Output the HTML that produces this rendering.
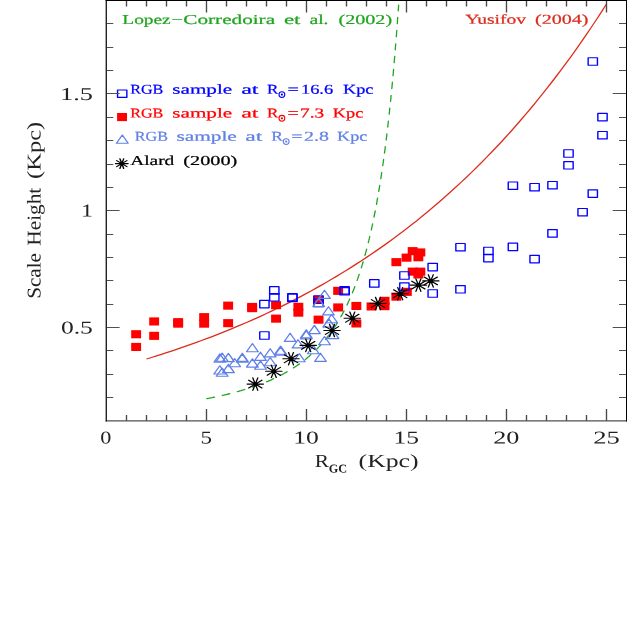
<!DOCTYPE html>
<html><head><meta charset="utf-8"><title>Scale Height vs R_GC</title>
<style>
html,body{margin:0;padding:0;background:#fff;}
body{width:627px;height:627px;overflow:hidden;}
svg{display:block;font-family:"Liberation Serif",serif;will-change:transform;}
</style></head><body>
<svg width="627" height="627" viewBox="0 0 627 627">
<rect width="627" height="627" fill="#fff"/>
<polyline fill="none" stroke="#dd2c1c" stroke-width="1.3" points="146.5,359.0 151.5,357.5 156.5,355.9 161.5,354.3 166.5,352.7 171.5,351.1 176.5,349.4 181.5,347.7 186.5,345.9 191.5,344.2 196.5,342.4 201.5,340.5 206.5,338.7 211.5,336.8 216.5,334.8 221.5,332.9 226.5,330.9 231.5,328.8 236.5,326.7 241.5,324.6 246.5,322.5 251.5,320.3 256.5,318.1 261.5,315.8 266.5,313.5 271.5,311.1 276.5,308.7 281.5,306.3 286.5,303.8 291.5,301.3 296.5,298.7 301.5,296.1 306.5,293.4 311.5,290.7 316.5,287.9 321.5,285.1 326.5,282.2 331.5,279.3 336.5,276.4 341.5,273.3 346.5,270.3 351.5,267.1 356.5,263.9 361.5,260.7 366.5,257.4 371.5,254.0 376.5,250.6 381.5,247.1 386.5,243.6 391.5,239.9 396.5,236.3 401.5,232.5 406.5,228.7 411.5,224.8 416.5,220.9 421.5,216.8 426.5,212.7 431.5,208.6 436.5,204.3 441.5,200.0 446.5,195.6 451.5,191.1 456.5,186.6 461.5,181.9 466.5,177.2 471.5,172.4 476.5,167.5 481.5,162.5 486.5,157.4 491.5,152.3 496.5,147.0 501.5,141.7 506.5,136.2 511.5,130.7 516.5,125.0 521.5,119.3 526.5,113.4 531.5,107.5 536.5,101.4 541.5,95.2 546.5,88.9 551.5,82.5 556.5,76.0 561.5,69.4 566.5,62.6 571.5,55.8 576.5,48.8 581.5,41.6 586.5,34.4 591.5,27.0 596.5,19.5 601.5,11.8 606.5,4.0"/>
<clipPath id="c"><rect x="106" y="0" width="520" height="421"/></clipPath>
<path clip-path="url(#c)" fill="none" stroke="#1fa51f" stroke-width="1.3" stroke-linecap="round" d="M206.9 398.7 L208.2 398.4 L209.5 398.2 L210.7 397.9 L212.0 397.7 L213.3 397.4 L214.5 397.1 M222.3 395.4 L223.5 395.2 L224.7 394.9 L226.0 394.6 L227.2 394.3 L228.5 394.0 L229.7 393.7 L229.8 393.6 M237.4 391.6 L238.6 391.3 L239.9 390.9 L241.1 390.6 L242.3 390.2 L243.6 389.9 L244.8 389.5 M252.2 387.1 L253.4 386.7 L254.6 386.3 L255.8 385.9 L257.0 385.4 L258.2 385.0 L259.4 384.6 L259.5 384.6 M266.6 381.7 L267.8 381.3 L268.9 380.8 L270.1 380.3 L271.3 379.8 L272.4 379.2 L273.6 378.7 M280.4 375.4 L281.5 374.8 L282.6 374.3 L283.7 373.7 L284.7 373.1 L285.8 372.5 L286.9 371.9 L287.0 371.8 M293.4 367.9 L294.4 367.3 L295.4 366.6 L296.4 366.0 L297.4 365.3 L298.4 364.6 L299.4 363.9 L299.4 363.9 M305.3 359.4 L306.2 358.7 L307.1 357.9 L308.1 357.1 L309.0 356.4 L309.9 355.6 L310.8 354.8 M316.0 349.9 L316.8 349.1 L317.6 348.2 L318.4 347.4 L319.2 346.6 L320.0 345.7 L320.8 344.8 M325.5 339.5 L326.1 338.6 L326.8 337.8 L327.5 336.9 L328.2 336.0 L328.9 335.1 L329.5 334.2 L329.7 334.1 M333.7 328.4 L334.3 327.5 L334.9 326.6 L335.5 325.7 L336.1 324.8 L336.7 323.8 L337.3 322.9 L337.3 322.7 M340.8 316.8 L341.3 315.9 L341.9 315.0 L342.4 314.0 L342.9 313.0 L343.4 312.1 L343.9 311.1 L344.0 311.0 M347.0 305.0 L347.4 304.0 L347.9 303.1 L348.3 302.1 L348.7 301.2 L349.2 300.2 L349.6 299.2 L349.7 299.0 M352.4 292.8 L352.8 291.8 L353.2 290.8 L353.6 289.8 L354.0 288.8 L354.4 287.7 L354.8 286.7 M357.1 280.4 L357.5 279.4 L357.8 278.4 L358.2 277.3 L358.5 276.3 L358.9 275.2 L359.2 274.3 M361.3 267.8 L361.6 266.9 L361.9 266.0 L362.1 265.1 L362.4 264.2 L362.7 263.2 L363.0 262.3 L363.1 261.8 M365.0 255.3 L365.3 254.3 L365.5 253.3 L365.8 252.2 L366.1 251.2 L366.4 250.1 L366.7 249.1 M368.3 242.6 L368.5 241.7 L368.8 240.7 L369.0 239.7 L369.3 238.7 L369.5 237.7 L369.7 236.7 L369.8 236.5 M371.3 229.9 L371.5 229.0 L371.7 228.1 L371.9 227.1 L372.1 226.2 L372.3 225.3 L372.5 224.4 L372.6 223.8 M374.0 217.0 L374.2 216.0 L374.4 215.0 L374.6 214.0 L374.8 213.0 L375.0 212.0 L375.2 211.0 M376.5 204.4 L376.6 203.5 L376.8 202.6 L376.9 201.8 L377.1 200.9 L377.3 200.0 L377.4 199.1 L377.6 198.2 M378.7 191.4 L378.9 190.5 L379.1 189.5 L379.2 188.6 L379.4 187.6 L379.5 186.6 L379.7 185.7 L379.7 185.4 M380.8 178.6 L381.0 177.6 L381.1 176.5 L381.3 175.5 L381.5 174.4 L381.6 173.4 L381.7 172.6 M382.7 165.7 L382.9 164.9 L383.0 164.1 L383.1 163.2 L383.2 162.4 L383.3 161.5 L383.5 160.7 L383.6 159.8 L383.6 159.5 M384.5 153.0 L384.6 152.1 L384.7 151.2 L384.9 150.3 L385.0 149.4 L385.1 148.5 L385.2 147.6 L385.3 146.6 M386.2 140.0 L386.3 139.0 L386.4 138.1 L386.5 137.1 L386.7 136.1 L386.8 135.1 L386.9 134.1 L386.9 133.8 M387.7 127.0 L387.9 126.0 L388.0 124.9 L388.1 123.9 L388.2 122.8 L388.3 121.8 L388.4 121.1 M389.2 114.2 L389.3 113.5 L389.3 112.7 L389.4 112.0 L389.5 111.3 L389.6 110.5 L389.7 109.8 L389.7 109.0 L389.8 108.2 M390.5 101.3 L390.6 100.6 L390.7 99.8 L390.8 99.0 L390.9 98.2 L390.9 97.4 L391.0 96.6 L391.1 95.8 L391.1 95.4 M391.8 88.5 L391.9 87.6 L392.0 86.8 L392.1 86.0 L392.1 85.1 L392.2 84.3 L392.3 83.4 L392.4 82.6 L392.4 82.2 M393.0 75.7 L393.1 74.8 L393.2 73.9 L393.3 73.0 L393.3 72.1 L393.4 71.2 L393.5 70.4 L393.6 69.5 M394.2 62.6 L394.3 61.7 L394.3 60.7 L394.4 59.8 L394.5 58.9 L394.6 57.9 L394.7 57.0 L394.7 56.5 M395.3 49.8 L395.3 48.8 L395.4 47.8 L395.5 46.8 L395.6 45.8 L395.7 44.8 L395.7 43.8 M396.3 36.7 L396.4 35.7 L396.5 34.7 L396.5 33.6 L396.6 32.6 L396.7 31.5 L396.8 30.5 M397.3 23.6 L397.4 22.5 L397.5 21.4 L397.5 20.3 L397.6 19.2 L397.7 18.1 L397.7 17.5 M398.2 10.8 L398.3 10.3 L398.3 9.7 L398.3 9.1 L398.4 8.6 L398.4 8.0 L398.5 7.4 L398.5 6.8 L398.5 6.3 L398.6 5.7 L398.6 5.1 M399.1 -1.9 L399.1 -2.5 L399.2 -3.1 L399.2 -3.7 L399.3 -4.3 L399.3 -4.9 L399.3 -5.5 L399.4 -6.1 L399.4 -6.7 L399.5 -7.3 L399.5 -7.9 M400.0 -15.3 L400.0 -15.9 L400.1 -16.5 L400.1 -17.1 L400.1 -17.7 L400.2 -18.4 L400.2 -19.0 L400.3 -19.6 L400.3 -20.3 L400.3 -20.9 M400.8 -27.9 L400.8 -28.6 L400.9 -29.2 L400.9 -29.9 L400.9 -30.5 L401.0 -31.2 L401.0 -31.8 L401.1 -32.5 L401.1 -33.1 L401.1 -33.8 M401.6 -41.1 L401.6 -41.8 L401.7 -42.5 L401.7 -43.2 L401.7 -43.9 L401.8 -44.5 L401.8 -45.2 L401.9 -45.9 L401.9 -46.6 M402.3 -54.3 L402.4 -55.0 L402.4 -55.7 L402.5 -56.4 "/>
<rect x="131.2" y="330.2" width="9.9" height="8.1" fill="#ff0000"/>
<rect x="131.2" y="342.9" width="9.9" height="8.1" fill="#ff0000"/>
<rect x="149.2" y="317.4" width="9.9" height="8.1" fill="#ff0000"/>
<rect x="149.2" y="331.8" width="9.9" height="8.1" fill="#ff0000"/>
<rect x="173.2" y="318.1" width="9.9" height="8.1" fill="#ff0000"/>
<rect x="173.2" y="319.6" width="9.9" height="8.1" fill="#ff0000"/>
<rect x="199.2" y="313.1" width="9.9" height="8.1" fill="#ff0000"/>
<rect x="199.2" y="319.6" width="9.9" height="8.1" fill="#ff0000"/>
<rect x="223.2" y="301.6" width="9.9" height="8.1" fill="#ff0000"/>
<rect x="223.2" y="319.1" width="9.9" height="8.1" fill="#ff0000"/>
<rect x="247.2" y="302.9" width="9.9" height="8.1" fill="#ff0000"/>
<rect x="247.2" y="304.1" width="9.9" height="8.1" fill="#ff0000"/>
<rect x="271.1" y="301.1" width="9.9" height="8.1" fill="#ff0000"/>
<rect x="271.1" y="314.6" width="9.9" height="8.1" fill="#ff0000"/>
<rect x="293.4" y="302.8" width="9.9" height="8.1" fill="#ff0000"/>
<rect x="293.4" y="308.6" width="9.9" height="8.1" fill="#ff0000"/>
<rect x="313.6" y="295.9" width="9.9" height="8.1" fill="#ff0000"/>
<rect x="313.6" y="315.6" width="9.9" height="8.1" fill="#ff0000"/>
<rect x="333.2" y="286.8" width="9.9" height="8.1" fill="#ff0000"/>
<rect x="333.2" y="303.4" width="9.9" height="8.1" fill="#ff0000"/>
<rect x="351.4" y="301.9" width="9.9" height="8.1" fill="#ff0000"/>
<rect x="351.4" y="319.4" width="9.9" height="8.1" fill="#ff0000"/>
<rect x="366.6" y="302.4" width="9.9" height="8.1" fill="#ff0000"/>
<rect x="379.6" y="296.8" width="9.9" height="8.1" fill="#ff0000"/>
<rect x="379.6" y="302.1" width="9.9" height="8.1" fill="#ff0000"/>
<rect x="391.4" y="292.6" width="9.9" height="8.1" fill="#ff0000"/>
<rect x="401.9" y="287.8" width="9.9" height="8.1" fill="#ff0000"/>
<rect x="391.4" y="258.1" width="9.9" height="8.1" fill="#ff0000"/>
<rect x="401.6" y="253.6" width="9.9" height="8.1" fill="#ff0000"/>
<rect x="407.7" y="247.1" width="9.9" height="8.1" fill="#ff0000"/>
<rect x="415.4" y="248.4" width="9.9" height="8.1" fill="#ff0000"/>
<rect x="413.4" y="253.2" width="9.9" height="8.1" fill="#ff0000"/>
<rect x="407.7" y="267.6" width="9.9" height="8.1" fill="#ff0000"/>
<rect x="415.4" y="267.6" width="9.9" height="8.1" fill="#ff0000"/>
<rect x="413.4" y="270.4" width="9.9" height="8.1" fill="#ff0000"/>
<g transform="translate(264.4,304.1) scale(1,0.812)"><rect x="-4.65" y="-4.6" width="9.3" height="9.2" fill="none" stroke="#0000ff" stroke-width="1.4" stroke-linejoin="round"/></g>
<g transform="translate(274.3,290.4) scale(1,0.812)"><rect x="-4.65" y="-4.6" width="9.3" height="9.2" fill="none" stroke="#0000ff" stroke-width="1.4" stroke-linejoin="round"/></g>
<g transform="translate(274.3,297.3) scale(1,0.812)"><rect x="-4.65" y="-4.6" width="9.3" height="9.2" fill="none" stroke="#0000ff" stroke-width="1.4" stroke-linejoin="round"/></g>
<g transform="translate(264.4,335.5) scale(1,0.812)"><rect x="-4.65" y="-4.6" width="9.3" height="9.2" fill="none" stroke="#0000ff" stroke-width="1.4" stroke-linejoin="round"/></g>
<g transform="translate(292.4,297.2) scale(1,0.812)"><rect x="-4.65" y="-4.6" width="9.3" height="9.2" fill="none" stroke="#0000ff" stroke-width="1.4" stroke-linejoin="round"/></g>
<g transform="translate(292.4,297.9) scale(1,0.812)"><rect x="-4.65" y="-4.6" width="9.3" height="9.2" fill="none" stroke="#0000ff" stroke-width="1.4" stroke-linejoin="round"/></g>
<g transform="translate(318.5,299.5) scale(1,0.812)"><rect x="-4.65" y="-4.6" width="9.3" height="9.2" fill="none" stroke="#0000ff" stroke-width="1.4" stroke-linejoin="round"/></g>
<g transform="translate(318.5,302.9) scale(1,0.812)"><rect x="-4.65" y="-4.6" width="9.3" height="9.2" fill="none" stroke="#0000ff" stroke-width="1.4" stroke-linejoin="round"/></g>
<g transform="translate(344.6,290.4) scale(1,0.812)"><rect x="-4.65" y="-4.6" width="9.3" height="9.2" fill="none" stroke="#0000ff" stroke-width="1.4" stroke-linejoin="round"/></g>
<g transform="translate(344.6,291.3) scale(1,0.812)"><rect x="-4.65" y="-4.6" width="9.3" height="9.2" fill="none" stroke="#0000ff" stroke-width="1.4" stroke-linejoin="round"/></g>
<g transform="translate(374.3,283.4) scale(1,0.812)"><rect x="-4.65" y="-4.6" width="9.3" height="9.2" fill="none" stroke="#0000ff" stroke-width="1.4" stroke-linejoin="round"/></g>
<g transform="translate(404.4,275.5) scale(1,0.812)"><rect x="-4.65" y="-4.6" width="9.3" height="9.2" fill="none" stroke="#0000ff" stroke-width="1.4" stroke-linejoin="round"/></g>
<g transform="translate(404.4,286.6) scale(1,0.812)"><rect x="-4.65" y="-4.6" width="9.3" height="9.2" fill="none" stroke="#0000ff" stroke-width="1.4" stroke-linejoin="round"/></g>
<g transform="translate(432.7,267.1) scale(1,0.812)"><rect x="-4.65" y="-4.6" width="9.3" height="9.2" fill="none" stroke="#0000ff" stroke-width="1.4" stroke-linejoin="round"/></g>
<g transform="translate(432.7,293.5) scale(1,0.812)"><rect x="-4.65" y="-4.6" width="9.3" height="9.2" fill="none" stroke="#0000ff" stroke-width="1.4" stroke-linejoin="round"/></g>
<g transform="translate(460.5,247.2) scale(1,0.812)"><rect x="-4.65" y="-4.6" width="9.3" height="9.2" fill="none" stroke="#0000ff" stroke-width="1.4" stroke-linejoin="round"/></g>
<g transform="translate(460.5,289.3) scale(1,0.812)"><rect x="-4.65" y="-4.6" width="9.3" height="9.2" fill="none" stroke="#0000ff" stroke-width="1.4" stroke-linejoin="round"/></g>
<g transform="translate(568.5,153.5) scale(1,0.812)"><rect x="-4.65" y="-4.6" width="9.3" height="9.2" fill="none" stroke="#0000ff" stroke-width="1.4" stroke-linejoin="round"/></g>
<g transform="translate(568.5,165.3) scale(1,0.812)"><rect x="-4.65" y="-4.6" width="9.3" height="9.2" fill="none" stroke="#0000ff" stroke-width="1.4" stroke-linejoin="round"/></g>
<g transform="translate(512.9,185.7) scale(1,0.812)"><rect x="-4.65" y="-4.6" width="9.3" height="9.2" fill="none" stroke="#0000ff" stroke-width="1.4" stroke-linejoin="round"/></g>
<g transform="translate(534.6,187.2) scale(1,0.812)"><rect x="-4.65" y="-4.6" width="9.3" height="9.2" fill="none" stroke="#0000ff" stroke-width="1.4" stroke-linejoin="round"/></g>
<g transform="translate(552.5,185.2) scale(1,0.812)"><rect x="-4.65" y="-4.6" width="9.3" height="9.2" fill="none" stroke="#0000ff" stroke-width="1.4" stroke-linejoin="round"/></g>
<g transform="translate(592.8,193.6) scale(1,0.812)"><rect x="-4.65" y="-4.6" width="9.3" height="9.2" fill="none" stroke="#0000ff" stroke-width="1.4" stroke-linejoin="round"/></g>
<g transform="translate(582.6,212.2) scale(1,0.812)"><rect x="-4.65" y="-4.6" width="9.3" height="9.2" fill="none" stroke="#0000ff" stroke-width="1.4" stroke-linejoin="round"/></g>
<g transform="translate(552.5,233.4) scale(1,0.812)"><rect x="-4.65" y="-4.6" width="9.3" height="9.2" fill="none" stroke="#0000ff" stroke-width="1.4" stroke-linejoin="round"/></g>
<g transform="translate(512.9,246.9) scale(1,0.812)"><rect x="-4.65" y="-4.6" width="9.3" height="9.2" fill="none" stroke="#0000ff" stroke-width="1.4" stroke-linejoin="round"/></g>
<g transform="translate(488.4,251.0) scale(1,0.812)"><rect x="-4.65" y="-4.6" width="9.3" height="9.2" fill="none" stroke="#0000ff" stroke-width="1.4" stroke-linejoin="round"/></g>
<g transform="translate(488.4,258.1) scale(1,0.812)"><rect x="-4.65" y="-4.6" width="9.3" height="9.2" fill="none" stroke="#0000ff" stroke-width="1.4" stroke-linejoin="round"/></g>
<g transform="translate(534.6,259.1) scale(1,0.812)"><rect x="-4.65" y="-4.6" width="9.3" height="9.2" fill="none" stroke="#0000ff" stroke-width="1.4" stroke-linejoin="round"/></g>
<g transform="translate(592.8,61.5) scale(1,0.812)"><rect x="-4.65" y="-4.6" width="9.3" height="9.2" fill="none" stroke="#0000ff" stroke-width="1.4" stroke-linejoin="round"/></g>
<g transform="translate(602.5,117.1) scale(1,0.812)"><rect x="-4.65" y="-4.6" width="9.3" height="9.2" fill="none" stroke="#0000ff" stroke-width="1.4" stroke-linejoin="round"/></g>
<g transform="translate(602.5,135.2) scale(1,0.812)"><rect x="-4.65" y="-4.6" width="9.3" height="9.2" fill="none" stroke="#0000ff" stroke-width="1.4" stroke-linejoin="round"/></g>
<g transform="translate(219.9,358.0) scale(1,0.812)"><path d="M0 -5.05 L5.85 5.05 L-5.85 5.05 Z" fill="none" stroke="#6080e6" stroke-width="1.35" stroke-linejoin="round"/></g>
<g transform="translate(222.2,357.2) scale(1,0.812)"><path d="M0 -5.05 L5.85 5.05 L-5.85 5.05 Z" fill="none" stroke="#6080e6" stroke-width="1.35" stroke-linejoin="round"/></g>
<g transform="translate(228.4,357.5) scale(1,0.812)"><path d="M0 -5.05 L5.85 5.05 L-5.85 5.05 Z" fill="none" stroke="#6080e6" stroke-width="1.35" stroke-linejoin="round"/></g>
<g transform="translate(234.7,362.7) scale(1,0.812)"><path d="M0 -5.05 L5.85 5.05 L-5.85 5.05 Z" fill="none" stroke="#6080e6" stroke-width="1.35" stroke-linejoin="round"/></g>
<g transform="translate(242.3,357.3) scale(1,0.812)"><path d="M0 -5.05 L5.85 5.05 L-5.85 5.05 Z" fill="none" stroke="#6080e6" stroke-width="1.35" stroke-linejoin="round"/></g>
<g transform="translate(242.3,358.2) scale(1,0.812)"><path d="M0 -5.05 L5.85 5.05 L-5.85 5.05 Z" fill="none" stroke="#6080e6" stroke-width="1.35" stroke-linejoin="round"/></g>
<g transform="translate(252.4,347.7) scale(1,0.812)"><path d="M0 -5.05 L5.85 5.05 L-5.85 5.05 Z" fill="none" stroke="#6080e6" stroke-width="1.35" stroke-linejoin="round"/></g>
<g transform="translate(252.4,363.0) scale(1,0.812)"><path d="M0 -5.05 L5.85 5.05 L-5.85 5.05 Z" fill="none" stroke="#6080e6" stroke-width="1.35" stroke-linejoin="round"/></g>
<g transform="translate(260.5,356.3) scale(1,0.812)"><path d="M0 -5.05 L5.85 5.05 L-5.85 5.05 Z" fill="none" stroke="#6080e6" stroke-width="1.35" stroke-linejoin="round"/></g>
<g transform="translate(260.5,365.2) scale(1,0.812)"><path d="M0 -5.05 L5.85 5.05 L-5.85 5.05 Z" fill="none" stroke="#6080e6" stroke-width="1.35" stroke-linejoin="round"/></g>
<g transform="translate(219.8,369.9) scale(1,0.812)"><path d="M0 -5.05 L5.85 5.05 L-5.85 5.05 Z" fill="none" stroke="#6080e6" stroke-width="1.35" stroke-linejoin="round"/></g>
<g transform="translate(222.2,372.2) scale(1,0.812)"><path d="M0 -5.05 L5.85 5.05 L-5.85 5.05 Z" fill="none" stroke="#6080e6" stroke-width="1.35" stroke-linejoin="round"/></g>
<g transform="translate(228.4,368.5) scale(1,0.812)"><path d="M0 -5.05 L5.85 5.05 L-5.85 5.05 Z" fill="none" stroke="#6080e6" stroke-width="1.35" stroke-linejoin="round"/></g>
<g transform="translate(270.2,352.8) scale(1,0.812)"><path d="M0 -5.05 L5.85 5.05 L-5.85 5.05 Z" fill="none" stroke="#6080e6" stroke-width="1.35" stroke-linejoin="round"/></g>
<g transform="translate(280.6,350.2) scale(1,0.812)"><path d="M0 -5.05 L5.85 5.05 L-5.85 5.05 Z" fill="none" stroke="#6080e6" stroke-width="1.35" stroke-linejoin="round"/></g>
<g transform="translate(280.6,351.0) scale(1,0.812)"><path d="M0 -5.05 L5.85 5.05 L-5.85 5.05 Z" fill="none" stroke="#6080e6" stroke-width="1.35" stroke-linejoin="round"/></g>
<g transform="translate(270.2,361.7) scale(1,0.812)"><path d="M0 -5.05 L5.85 5.05 L-5.85 5.05 Z" fill="none" stroke="#6080e6" stroke-width="1.35" stroke-linejoin="round"/></g>
<g transform="translate(298.0,343.8) scale(1,0.812)"><path d="M0 -5.05 L5.85 5.05 L-5.85 5.05 Z" fill="none" stroke="#6080e6" stroke-width="1.35" stroke-linejoin="round"/></g>
<g transform="translate(299.3,357.7) scale(1,0.812)"><path d="M0 -5.05 L5.85 5.05 L-5.85 5.05 Z" fill="none" stroke="#6080e6" stroke-width="1.35" stroke-linejoin="round"/></g>
<g transform="translate(290.1,337.3) scale(1,0.812)"><path d="M0 -5.05 L5.85 5.05 L-5.85 5.05 Z" fill="none" stroke="#6080e6" stroke-width="1.35" stroke-linejoin="round"/></g>
<g transform="translate(313.3,349.6) scale(1,0.812)"><path d="M0 -5.05 L5.85 5.05 L-5.85 5.05 Z" fill="none" stroke="#6080e6" stroke-width="1.35" stroke-linejoin="round"/></g>
<g transform="translate(320.5,357.3) scale(1,0.812)"><path d="M0 -5.05 L5.85 5.05 L-5.85 5.05 Z" fill="none" stroke="#6080e6" stroke-width="1.35" stroke-linejoin="round"/></g>
<g transform="translate(324.5,294.3) scale(1,0.812)"><path d="M0 -5.05 L5.85 5.05 L-5.85 5.05 Z" fill="none" stroke="#6080e6" stroke-width="1.35" stroke-linejoin="round"/></g>
<g transform="translate(318.7,302.5) scale(1,0.812)"><path d="M0 -5.05 L5.85 5.05 L-5.85 5.05 Z" fill="none" stroke="#6080e6" stroke-width="1.35" stroke-linejoin="round"/></g>
<g transform="translate(328.5,310.8) scale(1,0.812)"><path d="M0 -5.05 L5.85 5.05 L-5.85 5.05 Z" fill="none" stroke="#6080e6" stroke-width="1.35" stroke-linejoin="round"/></g>
<g transform="translate(331.6,318.7) scale(1,0.812)"><path d="M0 -5.05 L5.85 5.05 L-5.85 5.05 Z" fill="none" stroke="#6080e6" stroke-width="1.35" stroke-linejoin="round"/></g>
<g transform="translate(328.8,323.0) scale(1,0.812)"><path d="M0 -5.05 L5.85 5.05 L-5.85 5.05 Z" fill="none" stroke="#6080e6" stroke-width="1.35" stroke-linejoin="round"/></g>
<g transform="translate(314.4,329.5) scale(1,0.812)"><path d="M0 -5.05 L5.85 5.05 L-5.85 5.05 Z" fill="none" stroke="#6080e6" stroke-width="1.35" stroke-linejoin="round"/></g>
<g transform="translate(306.3,333.8) scale(1,0.812)"><path d="M0 -5.05 L5.85 5.05 L-5.85 5.05 Z" fill="none" stroke="#6080e6" stroke-width="1.35" stroke-linejoin="round"/></g>
<g transform="translate(306.3,334.8) scale(1,0.812)"><path d="M0 -5.05 L5.85 5.05 L-5.85 5.05 Z" fill="none" stroke="#6080e6" stroke-width="1.35" stroke-linejoin="round"/></g>
<g transform="translate(324.5,340.6) scale(1,0.812)"><path d="M0 -5.05 L5.85 5.05 L-5.85 5.05 Z" fill="none" stroke="#6080e6" stroke-width="1.35" stroke-linejoin="round"/></g>
<g transform="translate(333.0,334.5) scale(1,0.812)"><path d="M0 -5.05 L5.85 5.05 L-5.85 5.05 Z" fill="none" stroke="#6080e6" stroke-width="1.35" stroke-linejoin="round"/></g>
<g transform="translate(255.3,384.1) scale(1,0.812)"><path d="M-8.1 -0.0 L8.1 0.0 M-6.6 -4.8 L6.6 4.8 M-2.5 -7.7 L2.5 7.7 M2.5 -7.7 L-2.5 7.7 M6.6 -4.8 L-6.6 4.8 " stroke="#000" stroke-width="1.35" stroke-linecap="round" fill="none"/><circle r="2.3" fill="#000"/></g>
<g transform="translate(273.8,371.3) scale(1,0.812)"><path d="M-8.1 -0.0 L8.1 0.0 M-6.6 -4.8 L6.6 4.8 M-2.5 -7.7 L2.5 7.7 M2.5 -7.7 L-2.5 7.7 M6.6 -4.8 L-6.6 4.8 " stroke="#000" stroke-width="1.35" stroke-linecap="round" fill="none"/><circle r="2.3" fill="#000"/></g>
<g transform="translate(291.0,358.7) scale(1,0.812)"><path d="M-8.1 -0.0 L8.1 0.0 M-6.6 -4.8 L6.6 4.8 M-2.5 -7.7 L2.5 7.7 M2.5 -7.7 L-2.5 7.7 M6.6 -4.8 L-6.6 4.8 " stroke="#000" stroke-width="1.35" stroke-linecap="round" fill="none"/><circle r="2.3" fill="#000"/></g>
<g transform="translate(308.2,345.4) scale(1,0.812)"><path d="M-8.1 -0.0 L8.1 0.0 M-6.6 -4.8 L6.6 4.8 M-2.5 -7.7 L2.5 7.7 M2.5 -7.7 L-2.5 7.7 M6.6 -4.8 L-6.6 4.8 " stroke="#000" stroke-width="1.35" stroke-linecap="round" fill="none"/><circle r="2.3" fill="#000"/></g>
<g transform="translate(332.0,330.5) scale(1,0.812)"><path d="M-8.1 -0.0 L8.1 0.0 M-6.6 -4.8 L6.6 4.8 M-2.5 -7.7 L2.5 7.7 M2.5 -7.7 L-2.5 7.7 M6.6 -4.8 L-6.6 4.8 " stroke="#000" stroke-width="1.35" stroke-linecap="round" fill="none"/><circle r="2.3" fill="#000"/></g>
<g transform="translate(352.3,318.2) scale(1,0.812)"><path d="M-8.1 -0.0 L8.1 0.0 M-6.6 -4.8 L6.6 4.8 M-2.5 -7.7 L2.5 7.7 M2.5 -7.7 L-2.5 7.7 M6.6 -4.8 L-6.6 4.8 " stroke="#000" stroke-width="1.35" stroke-linecap="round" fill="none"/><circle r="2.3" fill="#000"/></g>
<g transform="translate(378.0,303.5) scale(1,0.812)"><path d="M-8.1 -0.0 L8.1 0.0 M-6.6 -4.8 L6.6 4.8 M-2.5 -7.7 L2.5 7.7 M2.5 -7.7 L-2.5 7.7 M6.6 -4.8 L-6.6 4.8 " stroke="#000" stroke-width="1.35" stroke-linecap="round" fill="none"/><circle r="2.3" fill="#000"/></g>
<g transform="translate(400.2,293.7) scale(1,0.812)"><path d="M-8.1 -0.0 L8.1 0.0 M-6.6 -4.8 L6.6 4.8 M-2.5 -7.7 L2.5 7.7 M2.5 -7.7 L-2.5 7.7 M6.6 -4.8 L-6.6 4.8 " stroke="#000" stroke-width="1.35" stroke-linecap="round" fill="none"/><circle r="2.3" fill="#000"/></g>
<g transform="translate(418.4,285.1) scale(1,0.812)"><path d="M-8.1 -0.0 L8.1 0.0 M-6.6 -4.8 L6.6 4.8 M-2.5 -7.7 L2.5 7.7 M2.5 -7.7 L-2.5 7.7 M6.6 -4.8 L-6.6 4.8 " stroke="#000" stroke-width="1.35" stroke-linecap="round" fill="none"/><circle r="2.3" fill="#000"/></g>
<g transform="translate(430.8,280.9) scale(1,0.812)"><path d="M-8.1 -0.0 L8.1 0.0 M-6.6 -4.8 L6.6 4.8 M-2.5 -7.7 L2.5 7.7 M2.5 -7.7 L-2.5 7.7 M6.6 -4.8 L-6.6 4.8 " stroke="#000" stroke-width="1.35" stroke-linecap="round" fill="none"/><circle r="2.3" fill="#000"/></g>
<g transform="translate(122.2,93.7) scale(1,0.812)"><rect x="-4.65" y="-4.6" width="9.3" height="9.2" fill="none" stroke="#0000ff" stroke-width="1.4" stroke-linejoin="round"/></g>
<rect x="117.1" y="113.0" width="9.9" height="8.1" fill="#ff0000"/>
<g transform="translate(122.3,139.1) scale(1,0.812)"><path d="M0 -5.05 L5.85 5.05 L-5.85 5.05 Z" fill="none" stroke="#6080e6" stroke-width="1.35" stroke-linejoin="round"/></g>
<g transform="translate(121.8,163.6) scale(1,0.812)"><path d="M-6.3 -0.0 L6.3 0.0 M-5.1 -3.7 L5.1 3.7 M-1.9 -6.0 L1.9 6.0 M1.9 -6.0 L-1.9 6.0 M5.1 -3.7 L-5.1 3.7 " stroke="#000" stroke-width="1.35" stroke-linecap="round" fill="none"/><circle r="2.3" fill="#000"/></g>
<path d="M126.5 420.9 v-6 M126.5 0 v6.5 M146.5 420.9 v-6 M146.5 0 v6.5 M166.5 420.9 v-6 M166.5 0 v6.5 M186.5 420.9 v-6 M186.5 0 v6.5 M206.5 420.9 v-12 M206.5 0 v12.5 M226.5 420.9 v-6 M226.5 0 v6.5 M246.5 420.9 v-6 M246.5 0 v6.5 M266.5 420.9 v-6 M266.5 0 v6.5 M286.5 420.9 v-6 M286.5 0 v6.5 M306.5 420.9 v-12 M306.5 0 v12.5 M326.5 420.9 v-6 M326.5 0 v6.5 M346.5 420.9 v-6 M346.5 0 v6.5 M366.5 420.9 v-6 M366.5 0 v6.5 M386.5 420.9 v-6 M386.5 0 v6.5 M406.5 420.9 v-12 M406.5 0 v12.5 M426.5 420.9 v-6 M426.5 0 v6.5 M446.5 420.9 v-6 M446.5 0 v6.5 M466.5 420.9 v-6 M466.5 0 v6.5 M486.5 420.9 v-6 M486.5 0 v6.5 M506.5 420.9 v-12 M506.5 0 v12.5 M526.5 420.9 v-6 M526.5 0 v6.5 M546.5 420.9 v-6 M546.5 0 v6.5 M566.5 420.9 v-6 M566.5 0 v6.5 M586.5 420.9 v-6 M586.5 0 v6.5 M606.5 420.9 v-12 M606.5 0 v12.5 " stroke="#484848" stroke-width="1.35" fill="none"/>
<path d="M106.3 397.5 h7.0 M626.5 397.5 h-7.5 M106.3 374.5 h7.0 M626.5 374.5 h-7.5 M106.3 350.5 h7.0 M626.5 350.5 h-7.5 M106.3 327.5 h13.3 M626.5 327.5 h-13.8 M106.3 304.5 h7.0 M626.5 304.5 h-7.5 M106.3 280.5 h7.0 M626.5 280.5 h-7.5 M106.3 257.5 h7.0 M626.5 257.5 h-7.5 M106.3 234.5 h7.0 M626.5 234.5 h-7.5 M106.3 210.5 h13.3 M626.5 210.5 h-13.8 M106.3 187.5 h7.0 M626.5 187.5 h-7.5 M106.3 164.5 h7.0 M626.5 164.5 h-7.5 M106.3 140.5 h7.0 M626.5 140.5 h-7.5 M106.3 117.5 h7.0 M626.5 117.5 h-7.5 M106.3 93.5 h13.3 M626.5 93.5 h-13.8 M106.3 70.5 h7.0 M626.5 70.5 h-7.5 M106.3 47.5 h7.0 M626.5 47.5 h-7.5 M106.3 23.5 h7.0 M626.5 23.5 h-7.5 " stroke="#505050" stroke-width="1.1" fill="none"/>
<path d="M105.6 420.9 H627" stroke="#505050" stroke-width="1.25" fill="none"/>
<path d="M106.3 0 V421.5" stroke="#222" stroke-width="1.4" fill="none"/>
<path d="M105.6 0.5 H627 M626.5 0 V421.5" stroke="#000" stroke-width="1" fill="none"/>
<text transform="translate(100.2,443.4) rotate(0.03) scale(1,1.000)" font-size="18.0" fill="#222" text-anchor="start" font-weight="normal" textLength="11.1" lengthAdjust="spacingAndGlyphs" >0</text>
<text transform="translate(200.5,443.4) rotate(0.03) scale(1,1.000)" font-size="18.0" fill="#222" text-anchor="start" font-weight="normal" textLength="11.5" lengthAdjust="spacingAndGlyphs" >5</text>
<text transform="translate(293.3,443.4) rotate(0.03) scale(1,1.000)" font-size="18.0" fill="#222" text-anchor="start" font-weight="normal" textLength="25.6" lengthAdjust="spacingAndGlyphs" >10</text>
<text transform="translate(393.4,443.4) rotate(0.03) scale(1,1.000)" font-size="18.0" fill="#222" text-anchor="start" font-weight="normal" textLength="25.5" lengthAdjust="spacingAndGlyphs" >15</text>
<text transform="translate(493.2,443.4) rotate(0.03) scale(1,1.000)" font-size="18.0" fill="#222" text-anchor="start" font-weight="normal" textLength="26.2" lengthAdjust="spacingAndGlyphs" >20</text>
<text transform="translate(593.2,443.4) rotate(0.03) scale(1,1.000)" font-size="18.0" fill="#222" text-anchor="start" font-weight="normal" textLength="26.7" lengthAdjust="spacingAndGlyphs" >25</text>
<text transform="translate(60.9,333.4) rotate(0.03) scale(1,1.000)" font-size="18.0" fill="#222" text-anchor="start" font-weight="normal" textLength="32.0" lengthAdjust="spacingAndGlyphs" >0.5</text>
<text transform="translate(81.1,216.6) rotate(0.03) scale(1,1.000)" font-size="18.0" fill="#222" text-anchor="start" font-weight="normal" textLength="11.9" lengthAdjust="spacingAndGlyphs" >1</text>
<text transform="translate(60.0,99.9) rotate(0.03) scale(1,1.000)" font-size="18.0" fill="#222" text-anchor="start" font-weight="normal" textLength="32.9" lengthAdjust="spacingAndGlyphs" >1.5</text>
<text transform="translate(314.8,466.9) rotate(0.03) scale(1,1.000)" font-size="18.5" fill="#222" text-anchor="start" font-weight="normal" textLength="14.2" lengthAdjust="spacingAndGlyphs" >R</text>
<text transform="translate(328.8,472.4) rotate(0.03) scale(1,1.000)" font-size="12.0" fill="#222" text-anchor="start" font-weight="bold" textLength="18.4" lengthAdjust="spacingAndGlyphs" >GC</text>
<text transform="translate(358.6,466.9) rotate(0.03) scale(1,1.000)" font-size="18.5" fill="#222" text-anchor="start" font-weight="normal" textLength="60.0" lengthAdjust="spacingAndGlyphs" >(Kpc)</text>
<g transform="translate(40.5,298.5) rotate(-90)"><text transform="translate(-0.3,0.0) rotate(0.03) scale(1,1.000)" font-size="19.5" fill="#222" text-anchor="start" font-weight="normal" textLength="45.8" lengthAdjust="spacingAndGlyphs" >Scale</text><text transform="translate(52.8,0.0) rotate(0.03) scale(1,1.000)" font-size="19.5" fill="#222" text-anchor="start" font-weight="normal" textLength="58.0" lengthAdjust="spacingAndGlyphs" >Height</text><text transform="translate(119.6,0.0) rotate(0.03) scale(1,1.000)" font-size="19.5" fill="#222" text-anchor="start" font-weight="normal" textLength="57.2" lengthAdjust="spacingAndGlyphs" >(Kpc)</text></g>
<text transform="translate(122.3,24.0) rotate(0.03)" font-size="13.6" fill="#1fa51f" stroke="#1fa51f" stroke-width="0.22" textLength="48.4" lengthAdjust="spacingAndGlyphs">Lopez</text><text transform="translate(171.5,24.0) rotate(0.03)" font-size="13.6" fill="#1fa51f" stroke="#1fa51f" stroke-width="0.22" textLength="11.4" lengthAdjust="spacingAndGlyphs">−</text><text transform="translate(183.3,24.0) rotate(0.03)" font-size="13.6" fill="#1fa51f" stroke="#1fa51f" stroke-width="0.22" textLength="91.8" lengthAdjust="spacingAndGlyphs">Corredoira</text><text transform="translate(283.9,24.0) rotate(0.03)" font-size="13.6" fill="#1fa51f" stroke="#1fa51f" stroke-width="0.22" textLength="16.5" lengthAdjust="spacingAndGlyphs">et</text><text transform="translate(309.5,24.0) rotate(0.03)" font-size="13.6" fill="#1fa51f" stroke="#1fa51f" stroke-width="0.22" textLength="19.0" lengthAdjust="spacingAndGlyphs">al.</text><text transform="translate(338.5,24.0) rotate(0.03)" font-size="13.6" fill="#1fa51f" stroke="#1fa51f" stroke-width="0.22" textLength="53.6" lengthAdjust="spacingAndGlyphs">(2002)</text>
<text transform="translate(465.3,23.8) rotate(0.03)" font-size="13.6" fill="#dd2c1c" stroke="#dd2c1c" stroke-width="0.22" textLength="60.7" lengthAdjust="spacingAndGlyphs">Yusifov</text><text transform="translate(535.0,23.8) rotate(0.03)" font-size="13.6" fill="#dd2c1c" stroke="#dd2c1c" stroke-width="0.22" textLength="53.5" lengthAdjust="spacingAndGlyphs">(2004)</text>
<text transform="translate(130.2,93.7) rotate(0.03)" font-size="13.6" fill="#0000ff" stroke="#0000ff" stroke-width="0.22" textLength="33.1" lengthAdjust="spacingAndGlyphs">RGB</text><text transform="translate(172.3,93.7) rotate(0.03)" font-size="13.6" fill="#0000ff" stroke="#0000ff" stroke-width="0.22" textLength="59.9" lengthAdjust="spacingAndGlyphs">sample</text><text transform="translate(241.2,93.7) rotate(0.03)" font-size="13.6" fill="#0000ff" stroke="#0000ff" stroke-width="0.22" textLength="17.3" lengthAdjust="spacingAndGlyphs">at</text><text transform="translate(267.0,93.7) rotate(0.03)" font-size="13.6" fill="#0000ff" stroke="#0000ff" stroke-width="0.22" textLength="11.4" lengthAdjust="spacingAndGlyphs">R</text><text transform="translate(287.4,93.7) rotate(0.03)" font-size="13.6" fill="#0000ff" stroke="#0000ff" stroke-width="0.22" textLength="11.4" lengthAdjust="spacingAndGlyphs">=</text><text transform="translate(300.9,93.7) rotate(0.03)" font-size="13.6" fill="#0000ff" stroke="#0000ff" stroke-width="0.22" textLength="32.3" lengthAdjust="spacingAndGlyphs">16.6</text><text transform="translate(343.0,93.7) rotate(0.03)" font-size="13.6" fill="#0000ff" stroke="#0000ff" stroke-width="0.22" textLength="30.5" lengthAdjust="spacingAndGlyphs">Kpc</text>
<circle cx="281.9" cy="94.6" r="2.9" fill="none" stroke="#0000ff" stroke-width="1.1"/><circle cx="281.9" cy="94.6" r="1.1" fill="#0000ff"/>
<text transform="translate(130.2,117.4) rotate(0.03)" font-size="13.6" fill="#ff0000" stroke="#ff0000" stroke-width="0.22" textLength="33.1" lengthAdjust="spacingAndGlyphs">RGB</text><text transform="translate(172.3,117.4) rotate(0.03)" font-size="13.6" fill="#ff0000" stroke="#ff0000" stroke-width="0.22" textLength="59.9" lengthAdjust="spacingAndGlyphs">sample</text><text transform="translate(241.2,117.4) rotate(0.03)" font-size="13.6" fill="#ff0000" stroke="#ff0000" stroke-width="0.22" textLength="17.3" lengthAdjust="spacingAndGlyphs">at</text><text transform="translate(267.0,117.4) rotate(0.03)" font-size="13.6" fill="#ff0000" stroke="#ff0000" stroke-width="0.22" textLength="11.4" lengthAdjust="spacingAndGlyphs">R</text><text transform="translate(287.4,117.4) rotate(0.03)" font-size="13.6" fill="#ff0000" stroke="#ff0000" stroke-width="0.22" textLength="11.4" lengthAdjust="spacingAndGlyphs">=</text><text transform="translate(300.1,117.4) rotate(0.03)" font-size="13.6" fill="#ff0000" stroke="#ff0000" stroke-width="0.22" textLength="24.2" lengthAdjust="spacingAndGlyphs">7.3</text><text transform="translate(332.8,117.4) rotate(0.03)" font-size="13.6" fill="#ff0000" stroke="#ff0000" stroke-width="0.22" textLength="30.5" lengthAdjust="spacingAndGlyphs">Kpc</text>
<circle cx="281.9" cy="118.3" r="2.9" fill="none" stroke="#ff0000" stroke-width="1.1"/><circle cx="281.9" cy="118.3" r="1.1" fill="#ff0000"/>
<text transform="translate(134.8,140.7) rotate(0.03)" font-size="13.6" fill="#6080e6" stroke="#6080e6" stroke-width="0.22" textLength="33.1" lengthAdjust="spacingAndGlyphs">RGB</text><text transform="translate(176.4,140.7) rotate(0.03)" font-size="13.6" fill="#6080e6" stroke="#6080e6" stroke-width="0.22" textLength="60.4" lengthAdjust="spacingAndGlyphs">sample</text><text transform="translate(245.3,140.7) rotate(0.03)" font-size="13.6" fill="#6080e6" stroke="#6080e6" stroke-width="0.22" textLength="17.0" lengthAdjust="spacingAndGlyphs">at</text><text transform="translate(271.3,140.7) rotate(0.03)" font-size="13.6" fill="#6080e6" stroke="#6080e6" stroke-width="0.22" textLength="11.7" lengthAdjust="spacingAndGlyphs">R</text><text transform="translate(291.2,140.7) rotate(0.03)" font-size="13.6" fill="#6080e6" stroke="#6080e6" stroke-width="0.22" textLength="11.4" lengthAdjust="spacingAndGlyphs">=</text><text transform="translate(304.0,140.7) rotate(0.03)" font-size="13.6" fill="#6080e6" stroke="#6080e6" stroke-width="0.22" textLength="24.9" lengthAdjust="spacingAndGlyphs">2.8</text><text transform="translate(337.1,140.7) rotate(0.03)" font-size="13.6" fill="#6080e6" stroke="#6080e6" stroke-width="0.22" textLength="30.3" lengthAdjust="spacingAndGlyphs">Kpc</text>
<circle cx="286.2" cy="141.6" r="2.9" fill="none" stroke="#6080e6" stroke-width="1.1"/><circle cx="286.2" cy="141.6" r="1.1" fill="#6080e6"/>
<text transform="translate(130.2,164.9) rotate(0.03)" font-size="13.6" fill="#000" stroke="#000" stroke-width="0.22" textLength="44.1" lengthAdjust="spacingAndGlyphs">Alard</text><text transform="translate(183.3,164.9) rotate(0.03)" font-size="13.6" fill="#000" stroke="#000" stroke-width="0.22" textLength="54.0" lengthAdjust="spacingAndGlyphs">(2000)</text>
</svg>
</body></html>
